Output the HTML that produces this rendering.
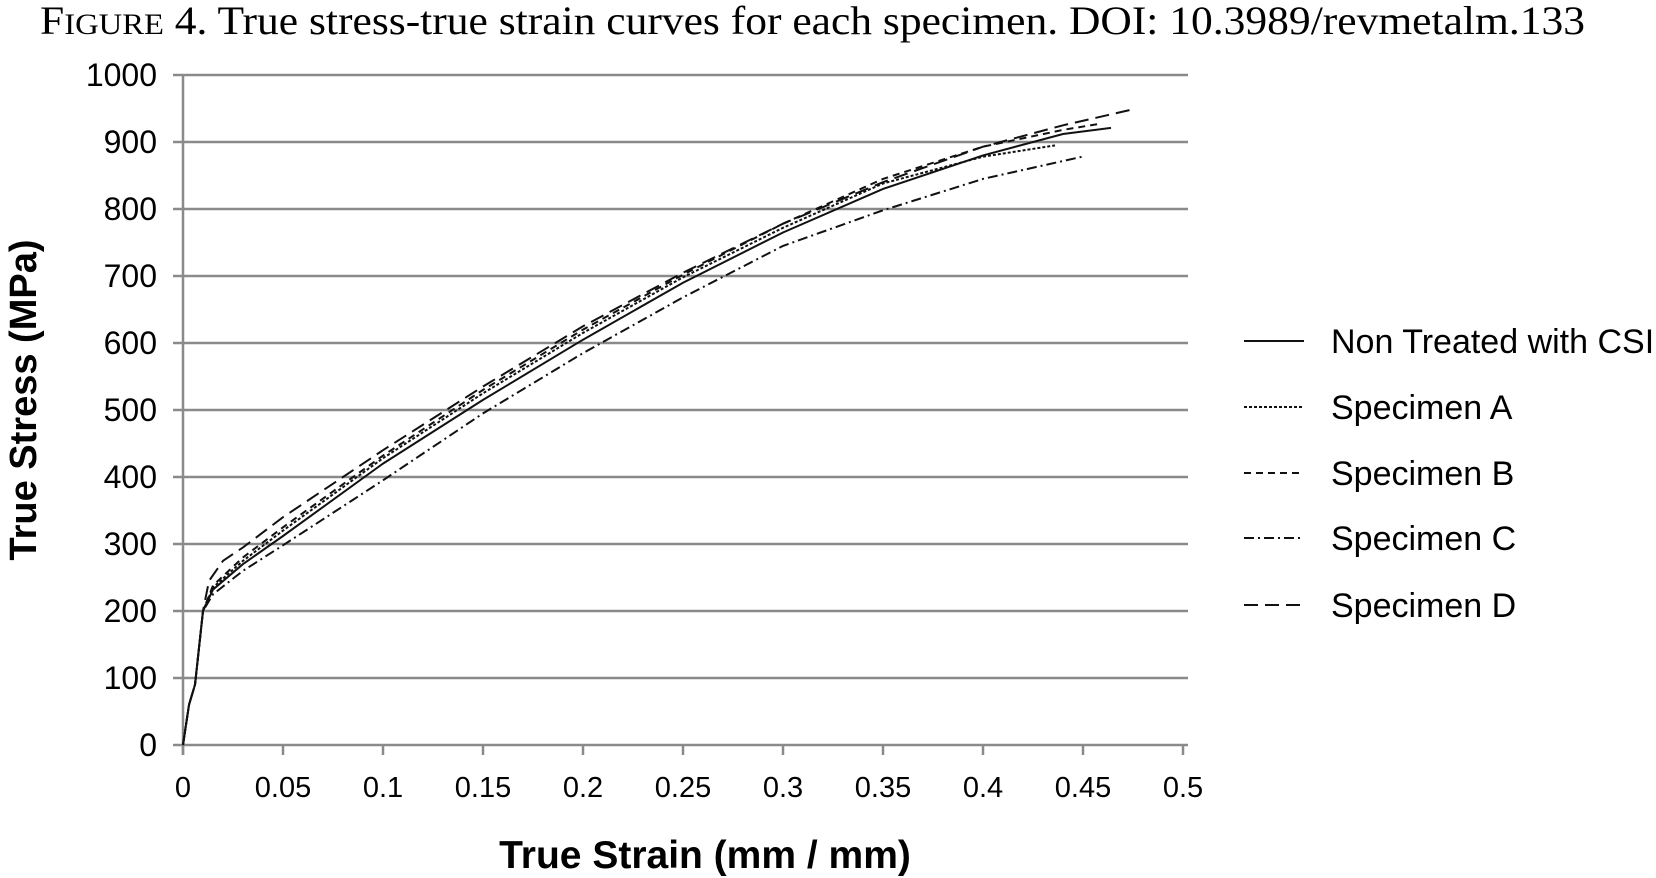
<!DOCTYPE html>
<html><head><meta charset="utf-8"><style>
body{margin:0;background:#fff;width:1656px;height:878px;overflow:hidden}
svg{display:block}
</style></head><body>
<svg width="1656" height="878" xmlns="http://www.w3.org/2000/svg">
<text x="40" y="34" textLength="1545" lengthAdjust="spacingAndGlyphs" font-family="Liberation Serif, serif" font-size="40" fill="#000"><tspan>F</tspan><tspan font-size="30">IGURE</tspan> 4.    True stress-true strain curves for each specimen.  DOI: 10.3989/revmetalm.133</text>
<g id="grid"></g>
<g id="axes"></g>
<g id="series"></g>
<g id="legend"></g>
<text x="705" y="868" text-anchor="middle" font-family="Liberation Sans, sans-serif" font-weight="bold" font-size="39">True Strain (mm / mm)</text>
<text transform="translate(36,400) rotate(-90)" text-anchor="middle" font-family="Liberation Sans, sans-serif" font-weight="bold" font-size="38">True Stress (MPa)</text>
</svg>
<script>
const xTicks=[0,0.05,0.1,0.15,0.2,0.25,0.3,0.35,0.4,0.45,0.5];
const xTickLabels=["0","0.05","0.1","0.15","0.2","0.25","0.3","0.35","0.4","0.45","0.5"];
const yTicks=[0,100,200,300,400,500,600,700,800,900,1000];
const seriesNames=["Non Treated with CSI","Specimen A","Specimen B","Specimen C","Specimen D"];
const strainNT=[0,0.003,0.006,0.01,0.015,0.03,0.05,0.1,0.15,0.2,0.25,0.3,0.35,0.4,0.44,0.464];
const stressNT=[0,60,90,200,232,270,312,420,515,605,690,765,830,880,912,921];
const strainA=[0,0.003,0.006,0.01,0.015,0.03,0.05,0.1,0.15,0.2,0.25,0.3,0.35,0.4,0.436];
const stressA=[0,60,90,200,235,275,320,428,525,615,698,772,838,878,895];
const strainB=[0,0.003,0.006,0.01,0.015,0.03,0.05,0.1,0.15,0.2,0.25,0.3,0.35,0.4,0.44,0.458];
const stressB=[0,60,90,200,238,280,325,432,530,620,702,778,845,893,918,927];
const strainC=[0,0.003,0.006,0.01,0.015,0.03,0.05,0.1,0.15,0.2,0.25,0.3,0.35,0.4,0.451];
const stressC=[0,60,90,200,225,260,298,395,495,585,668,745,798,845,879];
const strainD=[0,0.003,0.006,0.01,0.013,0.02,0.03,0.05,0.1,0.15,0.2,0.25,0.3,0.35,0.4,0.44,0.474];
const stressD=[0,60,90,200,245,275,295,340,440,535,625,705,778,840,893,925,948];
const dashes=["none","3,2","7,5","10,4,2,4","14,7"];

const NS="http://www.w3.org/2000/svg";
const X0=183,X1=1183,Y0=745,Y1=75;
const xs=v=>X0+(v/0.5)*(X1-X0);
const ys=v=>Y0-(v/1000)*(Y0-Y1);
function mk(tag,attrs,parent){const e=document.createElementNS(NS,tag);for(const k in attrs)e.setAttribute(k,attrs[k]);parent.appendChild(e);return e;}
const grid=document.getElementById('grid'),axes=document.getElementById('axes'),ser=document.getElementById('series'),leg=document.getElementById('legend');
yTicks.forEach((t,i)=>{
 const l=mk('line',{x1:X0-10,x2:X1+5,y1:ys(t),y2:ys(t),stroke:'#8a8a8a','stroke-width':2.5},grid);
 
 
 const tx=mk('text',{x:157,y:ys(t)+11,'text-anchor':'end','font-family':'Liberation Sans, sans-serif','font-size':32},axes);
 tx.textContent=String(t);
 
 
});
const ax=mk('line',{x1:X0,x2:X0,y1:Y1,y2:Y0+10,stroke:'#8a8a8a','stroke-width':2.5},axes);


xTicks.forEach((t,i)=>{
 const l=mk('line',{x1:xs(t),x2:xs(t),y1:Y0,y2:Y0+10,stroke:'#8a8a8a','stroke-width':2.5},axes);
 
 
 const tx=mk('text',{x:xs(t),y:797,'text-anchor':'middle','font-family':'Liberation Sans, sans-serif','font-size':29},axes);
 tx.textContent=xTickLabels[i];
 
 
});
const allX=[strainNT,strainA,strainB,strainC,strainD],allY=[stressNT,stressA,stressB,stressC,stressD];
const slug=["series-non-treated","series-specimen-a","series-specimen-b","series-specimen-c","series-specimen-d"];
allX.forEach((xa,s)=>{
 const d=xa.map((v,i)=>(i?'L':'M')+xs(v).toFixed(1)+','+ys(allY[s][i]).toFixed(1)).join(' ');
 const p=mk('path',{d:d,fill:'none',stroke:'#111','stroke-width':2,'stroke-dasharray':dashes[s]},ser);
 
 
});
const legY=[341,407,473,538,605];
seriesNames.forEach((n,i)=>{
 const l=mk('line',{x1:1244,x2:1304,y1:legY[i],y2:legY[i],stroke:'#111','stroke-width':2,'stroke-dasharray':dashes[i]},leg);
 
 
 const t=mk('text',{x:1331,y:legY[i]+12,'font-family':'Liberation Sans, sans-serif','font-size':34},leg);
 t.textContent=n;
 
 
});
</script>
</body></html>
